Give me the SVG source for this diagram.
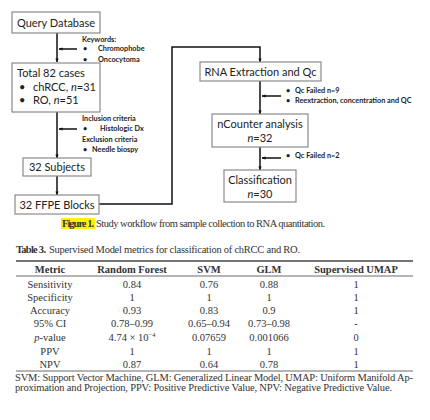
<svg xmlns="http://www.w3.org/2000/svg" width="430" height="420" viewBox="0 0 430 420">
<style>
.box{fill:#fff;stroke:#8a8a8a;stroke-width:1.2}
.bt{font-family:Lato,"Liberation Sans",sans-serif;font-size:11px;fill:#222}
.bc{text-anchor:middle}
.sm{font-family:Lato,"Liberation Sans",sans-serif;font-size:7.3px;font-weight:bold;fill:#222}
.ln{fill:none;stroke:#111;stroke-width:1.5}
.ser{font-family:"Liberation Serif","Times New Roman",serif;font-size:10.5px;fill:#333}
.hd{font-weight:bold}
.tc{text-anchor:middle}
.rule{stroke:#444}
</style>
<defs>
<marker id="ah" viewBox="0 0 10 10" refX="9" refY="5" markerWidth="4" markerHeight="4" orient="auto-start-reverse" markerUnits="userSpaceOnUse">
<path d="M0,1 L10,5 L0,9 z" fill="#111"/>
</marker>
</defs>
<rect width="430" height="420" fill="#fff"/>

<g id="connectors">
<path class="ln" d="M57,33 V62" marker-end="url(#ah)"/>
<path class="ln" d="M77,49 H59" marker-end="url(#ah)"/>
<path class="ln" d="M57,112 V158" marker-end="url(#ah)"/>
<path class="ln" d="M77,129 H59" marker-end="url(#ah)"/>
<path class="ln" d="M57,176 V195" marker-end="url(#ah)"/>
<path class="ln" d="M99,204 H172 V47 H260 V62" marker-end="url(#ah)"/>
<path class="ln" d="M260,81 V114" marker-end="url(#ah)"/>
<path class="ln" d="M281,96 H262" marker-end="url(#ah)"/>
<path class="ln" d="M260,147 V170" marker-end="url(#ah)"/>
<path class="ln" d="M281,158 H262" marker-end="url(#ah)"/>
</g>

<g id="query">
<rect class="box" x="12" y="12" width="88" height="21"/>
<text class="bt bc" x="56" y="26.5">Query Database</text>
</g>
<g id="keywords">
<text class="sm" x="82" y="42">Keywords:</text>
<text class="sm" x="83" y="51">•</text>
<text class="sm" x="98" y="51">Chromophobe</text>
<text class="sm" x="83" y="62">•</text>
<text class="sm" x="98" y="62">Oncocytoma</text>
</g>
<g id="total">
<rect class="box" x="12" y="63" width="88" height="49"/>
<text class="bt" x="17" y="77">Total 82 cases</text>
<text class="bt" x="19" y="91">•</text>
<text class="bt" x="33" y="91">chRCC, <tspan font-style="italic">n</tspan>=31</text>
<text class="bt" x="19" y="104">•</text>
<text class="bt" x="33" y="104">RO, <tspan font-style="italic">n</tspan>=51</text>
</g>
<g id="criteria">
<text class="sm" x="82" y="121">Inclusion criteria</text>
<text class="sm" x="83" y="131">•</text>
<text class="sm" x="100" y="131">Histologic Dx</text>
<text class="sm" x="82" y="142">Exclusion criteria</text>
<text class="sm" x="83" y="152">•</text>
<text class="sm" x="92" y="152">Needle biospy</text>
</g>
<g id="subjects">
<rect class="box" x="23" y="158" width="68" height="18"/>
<text class="bt bc" x="57" y="171">32 Subjects</text>
</g>
<g id="ffpe">
<rect class="box" x="15" y="195" width="84" height="19"/>
<text class="bt bc" x="57" y="208.5">32 FFPE Blocks</text>
</g>
<g id="rna">
<rect class="box" x="200" y="62" width="121" height="19"/>
<text class="bt bc" x="260.5" y="75.5">RNA Extraction and Qc</text>
</g>
<g id="qc1">
<text class="sm" x="286" y="93">•</text>
<text class="sm" x="295" y="93">Qc Failed n=9</text>
<text class="sm" x="286" y="103">•</text>
<text class="sm" x="295" y="103">Reextraction, concentration and QC</text>
</g>
<g id="ncounter">
<rect class="box" x="212" y="114" width="96" height="33"/>
<text class="bt bc" x="260" y="128">nCounter analysis</text>
<text class="bt bc" x="260" y="142"><tspan font-style="italic">n</tspan>=32</text>
</g>
<g id="qc2">
<text class="sm" x="286" y="158">•</text>
<text class="sm" x="295" y="158">Qc Failed n=2</text>
</g>
<g id="classification">
<rect class="box" x="224" y="170" width="72" height="32"/>
<text class="bt bc" x="260" y="184">Classification</text>
<text class="bt bc" x="260" y="198"><tspan font-style="italic">n</tspan>=30</text>
</g>

<rect x="61" y="218" width="34" height="11" fill="#fff200"/>
<text class="ser" x="62" y="227" font-size="10"><tspan class="hd" textLength="32">Figure 1.</tspan><tspan x="96" textLength="229">Study workflow from sample collection to RNA quantitation.</tspan></text>

<text class="ser" x="16" y="253" font-size="10"><tspan class="hd" textLength="30">Table 3.</tspan><tspan x="49" textLength="251">Supervised Model metrics for classification of chRCC and RO.</tspan></text>

<line class="rule" x1="16" y1="261" x2="413" y2="261" stroke-width="1.5"/>
<line class="rule" x1="16" y1="276" x2="413" y2="276" stroke-width="0.8"/>
<line class="rule" x1="16" y1="371" x2="413" y2="371" stroke-width="0.8"/>

<g class="ser hd tc">
<text x="50" y="273">Metric</text>
<text x="132" y="273">Random Forest</text>
<text x="209" y="273">SVM</text>
<text x="269" y="273">GLM</text>
<text x="356" y="273">Supervised UMAP</text>
</g>
<g class="ser tc">
<text x="50" y="288">Sensitivity</text><text x="132" y="288">0.84</text><text x="209" y="288">0.76</text><text x="269" y="288">0.88</text><text x="356" y="288">1</text>
<text x="50" y="301">Specificity</text><text x="132" y="301">1</text><text x="209" y="301">1</text><text x="269" y="301">1</text><text x="356" y="301">1</text>
<text x="50" y="314">Accuracy</text><text x="132" y="314">0.93</text><text x="209" y="314">0.83</text><text x="269" y="314">0.9</text><text x="356" y="314">1</text>
<text x="50" y="327">95% CI</text><text x="132" y="327">0.78–0.99</text><text x="209" y="327">0.65–0.94</text><text x="269" y="327">0.73–0.98</text><text x="356" y="327">-</text>
<text x="50" y="341"><tspan font-style="italic">p</tspan>-value</text><text x="132" y="341">4.74 × 10<tspan font-size="6.5" dy="-4">−4</tspan></text><text x="209" y="341">0.07659</text><text x="269" y="341">0.001066</text><text x="356" y="341">0</text>
<text x="50" y="355">PPV</text><text x="132" y="355">1</text><text x="209" y="355">1</text><text x="269" y="355">1</text><text x="356" y="355">1</text>
<text x="50" y="368">NPV</text><text x="132" y="368">0.87</text><text x="209" y="368">0.64</text><text x="269" y="368">0.78</text><text x="356" y="368">1</text>
</g>
<text class="ser" x="15" y="381" font-size="9.5" textLength="398" lengthAdjust="spacing">SVM: Support Vector Machine, GLM: Generalized Linear Model, UMAP: Uniform Manifold Ap-</text>
<text class="ser" x="15" y="391" font-size="9.5" textLength="377" lengthAdjust="spacing">proximation and Projection, PPV: Positive Predictive Value, NPV: Negative Predictive Value.</text>
</svg>
